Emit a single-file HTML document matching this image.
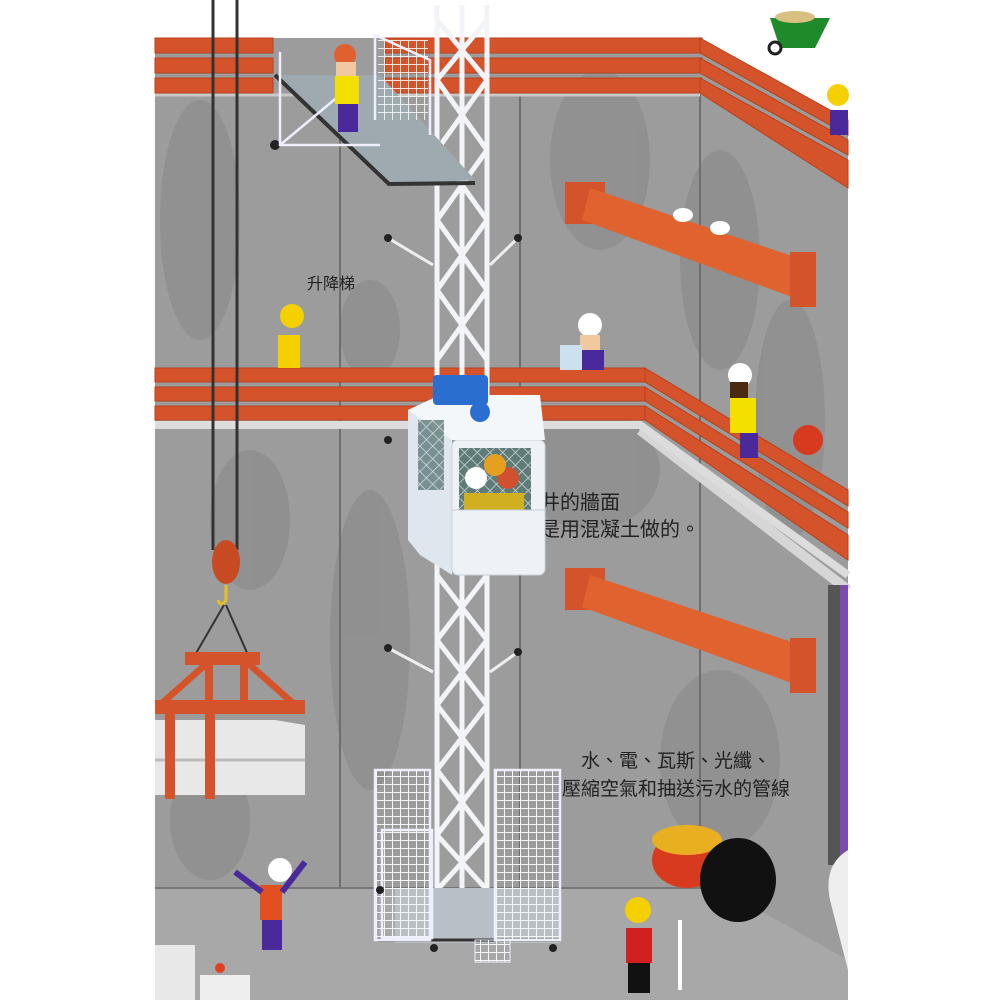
<!DOCTYPE html>
<html><head><meta charset="utf-8"><style>
html,body{margin:0;padding:0;background:#fff;}
svg{display:block}
text{font-family:"Liberation Sans","Noto Sans CJK TC",sans-serif;fill:#222}
</style></head><body>
<svg width="1000" height="1000" viewBox="0 0 1000 1000" xmlns="http://www.w3.org/2000/svg">
<defs>
<pattern id="mesh" width="8" height="8" patternUnits="userSpaceOnUse">
<rect width="8" height="8" fill="none"/><path d="M0 0H8M0 0V8" stroke="#f4f6f8" stroke-width="2"/>
</pattern>
<pattern id="dmesh" width="9" height="9" patternUnits="userSpaceOnUse" patternTransform="rotate(45)">
<rect width="9" height="9" fill="#5f7b78"/><path d="M0 0H9M0 0V9" stroke="#cfd8d8" stroke-width="1.5"/>
</pattern>
</defs>
<!-- wall -->
<path d="M155 38 H700 L848 125 V1000 H155Z" fill="#9c9c9c"/>
<g fill="#8e8e8e" opacity="0.8">
<ellipse cx="200" cy="220" rx="40" ry="120"/><ellipse cx="600" cy="160" rx="50" ry="90"/>
<ellipse cx="720" cy="260" rx="40" ry="110"/><ellipse cx="370" cy="330" rx="30" ry="50"/>
<ellipse cx="790" cy="420" rx="35" ry="120"/><ellipse cx="590" cy="470" rx="70" ry="60"/>
<ellipse cx="370" cy="640" rx="40" ry="150"/><ellipse cx="250" cy="520" rx="40" ry="70"/>
<ellipse cx="720" cy="760" rx="60" ry="90"/><ellipse cx="210" cy="820" rx="40" ry="60"/>
</g>
<!-- panel joints -->
<g stroke="#6e6e6e" stroke-width="2">
<line x1="340" y1="95" x2="340" y2="888"/><line x1="520" y1="95" x2="520" y2="888"/>
<line x1="700" y1="95" x2="700" y2="888"/>
</g>
<!-- floor -->
<path d="M155 888 H720 L848 960 V1000 H155Z" fill="#a8a8a8"/>
<line x1="155" y1="888" x2="720" y2="888" stroke="#777" stroke-width="2"/>
<!-- right diagonal wall edge -->
<path d="M640 430 L848 590" stroke="#d6d6d6" stroke-width="10"/>
<!-- top brick rails -->
<g fill="#d4532a" stroke="#b8401c" stroke-width="1">
<rect x="155" y="38" width="118" height="15"/><rect x="155" y="58" width="118" height="15"/><rect x="155" y="78" width="118" height="15"/>
<rect x="385" y="38" width="317" height="15"/><rect x="385" y="58" width="317" height="15"/><rect x="385" y="78" width="317" height="15"/>
<polygon points="700,38 848,120 848,135 700,53"/><polygon points="700,58 848,140 848,155 700,73"/><polygon points="700,78 848,160 848,188 700,93"/>
</g>
<line x1="155" y1="95" x2="700" y2="95" stroke="#c8c8c8" stroke-width="3"/>
<!-- middle brick rails -->
<g fill="#d4532a" stroke="#b8401c" stroke-width="1">
<rect x="155" y="368" width="490" height="14"/><rect x="155" y="387" width="490" height="14"/><rect x="155" y="406" width="490" height="14"/>
<polygon points="645,368 848,490 848,506 645,382"/><polygon points="645,387 848,512 848,528 645,401"/><polygon points="645,406 848,535 848,560 645,420"/>
</g>
<path d="M155 425 H640 L848 575" fill="none" stroke="#dcdcdc" stroke-width="8"/>
<!-- ropes -->
<line x1="213" y1="0" x2="213" y2="550" stroke="#333" stroke-width="3"/>
<line x1="237" y1="0" x2="237" y2="550" stroke="#333" stroke-width="3"/>
<!-- hook block -->
<ellipse cx="226" cy="562" rx="14" ry="22" fill="#c84a22"/>
<path d="M226 585 v15 q-5 8 -8 0" stroke="#e8c020" stroke-width="3" fill="none"/>
<line x1="224" y1="605" x2="195" y2="655" stroke="#333" stroke-width="2"/><line x1="226" y1="605" x2="248" y2="655" stroke="#333" stroke-width="2"/>
<!-- concrete blocks -->
<path d="M155 720 h120 l30 5 v70 H155Z" fill="#e8e8e8"/>
<path d="M155 760 H305" stroke="#bbb" stroke-width="3"/>
<!-- spreader -->
<g fill="#d4532a">
<rect x="185" y="652" width="75" height="13"/>
<polygon points="200,665 210,665 165,705 155,705"/><polygon points="245,665 255,665 300,705 290,705"/>
<rect x="205" y="665" width="8" height="40"/><rect x="240" y="665" width="8" height="40"/>
<rect x="155" y="700" width="150" height="14"/>
<rect x="165" y="714" width="10" height="85"/><rect x="205" y="714" width="10" height="85"/>
</g>
<!-- pipes -->
<g>
<rect x="565" y="182" width="40" height="42" fill="#d4532a"/>
<polygon points="590,188 810,262 800,300 582,220" fill="#e0622f"/>
<rect x="790" y="252" width="26" height="55" fill="#d4532a"/>
<rect x="565" y="568" width="40" height="42" fill="#d4532a"/>
<polygon points="590,575 810,648 800,686 582,607" fill="#e0622f"/>
<rect x="790" y="638" width="26" height="55" fill="#d4532a"/>
</g>
<!-- birds -->
<ellipse cx="683" cy="215" rx="10" ry="7" fill="#fff"/><ellipse cx="720" cy="228" rx="10" ry="7" fill="#fff"/>
<!-- right vertical pipe -->
<rect x="828" y="585" width="12" height="280" fill="#555"/>
<rect x="840" y="585" width="8" height="280" fill="#7a4cb0"/>
<!-- text -->
<text x="307" y="289" font-size="16">升降梯</text>
<text x="520" y="509" font-size="20">豎井的牆面</text>
<text x="520" y="536" font-size="20">都是用混凝土做的。</text>
<text x="676" y="767" font-size="19" text-anchor="middle">水、電、瓦斯、光纖、</text>
<text x="676" y="795" font-size="19" text-anchor="middle">壓縮空氣和抽送污水的管線</text>
<!-- tower -->
<g stroke="#f2f4f7" stroke-width="5" fill="none">
<line x1="437" y1="5" x2="437" y2="895"/><line x1="462" y1="5" x2="462" y2="895"/><line x1="487" y1="5" x2="487" y2="895"/>
<path d="M437 20 L487 80 M487 20 L437 80 M437 80 L487 150 M487 80 L437 150 M437 150 L487 220 M487 150 L437 220 M437 220 L487 290 M487 220 L437 290 M437 290 L487 360 M487 290 L437 360 M437 575 L487 640 M487 575 L437 640 M437 640 L487 705 M487 640 L437 705 M437 705 L487 770 M487 705 L437 770 M437 770 L487 835 M487 770 L437 835 M437 835 L487 890 M487 835 L437 890"/>
</g>
<g stroke="#eee" stroke-width="3"><line x1="388" y1="238" x2="433" y2="265"/><line x1="518" y1="238" x2="490" y2="265"/>
<line x1="388" y1="648" x2="433" y2="672"/><line x1="518" y1="652" x2="490" y2="672"/></g>
<g fill="#222"><circle cx="388" cy="238" r="4"/><circle cx="518" cy="238" r="4"/><circle cx="388" cy="648" r="4"/><circle cx="518" cy="652" r="4"/><circle cx="275" cy="145" r="5"/><circle cx="388" cy="440" r="4"/></g>
<!-- top platform -->
<polygon points="275,75 380,75 475,180 390,185" fill="#9fa9b0"/>
<line x1="275" y1="75" x2="390" y2="185" stroke="#333" stroke-width="4"/>
<line x1="390" y1="184" x2="475" y2="183" stroke="#333" stroke-width="4"/>
<g stroke="#eef" stroke-width="2.5" fill="none">
<path d="M280 52 V145 H380 M280 145 L340 95"/><path d="M375 35 L430 60 V135 M375 35 V120"/>
</g>
<rect x="378" y="40" width="50" height="80" fill="url(#mesh)" opacity="0.9"/>
<!-- workers (simplified) -->
<g>
<circle cx="345" cy="55" r="11" fill="#e06030"/><rect x="336" y="62" width="20" height="14" fill="#f1c9a0"/>
<rect x="335" y="76" width="24" height="28" fill="#f4e000"/><rect x="338" y="104" width="20" height="28" fill="#4a2a9a"/>
<circle cx="292" cy="316" r="12" fill="#f4d000"/><rect x="278" y="335" width="22" height="33" fill="#f4d000"/>
<circle cx="590" cy="325" r="12" fill="#fff"/><rect x="580" y="335" width="20" height="16" fill="#f1c9a0"/><rect x="560" y="345" width="22" height="25" fill="#cce0f0"/><rect x="582" y="350" width="22" height="20" fill="#4a2a9a"/>
<circle cx="740" cy="375" r="12" fill="#fff"/><rect x="730" y="382" width="18" height="16" fill="#4a2a10"/><rect x="730" y="398" width="26" height="35" fill="#f4e000"/><rect x="740" y="433" width="18" height="25" fill="#4a2a9a"/>
<circle cx="838" cy="95" r="11" fill="#f4d000"/><rect x="830" y="110" width="18" height="25" fill="#4a2a9a"/>
<circle cx="280" cy="870" r="12" fill="#fff"/><rect x="260" y="885" width="22" height="35" fill="#e05020"/><rect x="262" y="920" width="20" height="30" fill="#4a2a9a"/>
<path d="M235 872 L262 892 M305 862 L282 892" stroke="#4a2a9a" stroke-width="6"/>
<circle cx="638" cy="910" r="13" fill="#f4d000"/><rect x="626" y="928" width="26" height="35" fill="#d02020"/><rect x="628" y="963" width="22" height="30" fill="#111"/>
<line x1="680" y1="920" x2="680" y2="990" stroke="#fff" stroke-width="4"/>
</g>
<!-- cable reel & coils -->
<ellipse cx="687" cy="860" rx="35" ry="28" fill="#d83a20"/><ellipse cx="687" cy="840" rx="35" ry="15" fill="#e8b020"/>
<ellipse cx="738" cy="880" rx="38" ry="42" fill="#111"/>
<circle cx="808" cy="440" r="15" fill="#d83a20"/>
<!-- right bottom white machine -->
<path d="M848 850 q-25 15 -18 50 l18 70Z" fill="#eee"/>
<!-- cab -->
<polygon points="408,410 440,395 452,440 452,575 420,555 408,540" fill="#dfe6ee"/>
<rect x="452" y="440" width="93" height="135" rx="6" fill="#eef2f7" stroke="#c8d2dc"/>
<polygon points="408,410 440,395 540,395 545,440 452,440" fill="#f4f7fa"/>
<rect x="459" y="448" width="72" height="62" fill="url(#dmesh)"/>
<circle cx="476" cy="478" r="11" fill="#fff"/><circle cx="508" cy="478" r="11" fill="#d05030"/><circle cx="495" cy="465" r="11" fill="#e6a020"/>
<rect x="464" y="493" width="60" height="17" fill="#d0b020"/>
<rect x="418" y="420" width="26" height="70" fill="url(#dmesh)" opacity="0.8"/>
<line x1="452" y1="510" x2="545" y2="510" stroke="#c0ccd8"/>
<!-- motor -->
<rect x="433" y="375" width="55" height="30" rx="4" fill="#2a6fd0"/><circle cx="480" cy="412" r="10" fill="#2a6fd0"/>
<!-- bottom cage -->
<rect x="395" y="888" width="165" height="55" fill="#b8c0c6"/>
<line x1="378" y1="940" x2="560" y2="940" stroke="#333" stroke-width="3"/>
<rect x="375" y="770" width="55" height="170" fill="url(#mesh)" stroke="#eef" stroke-width="2.5"/>
<rect x="495" y="770" width="65" height="170" fill="url(#mesh)" stroke="#eef" stroke-width="2.5"/>
<rect x="382" y="830" width="50" height="108" fill="url(#mesh)" stroke="#eef" stroke-width="2.5"/>
<rect x="475" y="940" width="35" height="22" fill="url(#mesh)" stroke="#eef"/>
<g fill="#222"><circle cx="434" cy="948" r="4"/><circle cx="553" cy="948" r="4"/><circle cx="380" cy="890" r="4"/></g>
<!-- wheelbarrow -->
<path d="M770 18 h60 l-15 30 h-35z" fill="#1f8a2a"/><ellipse cx="795" cy="17" rx="20" ry="6" fill="#d8c080"/>
<circle cx="775" cy="48" r="6" fill="none" stroke="#222" stroke-width="3"/>
<!-- bottom left blocks -->
<path d="M155 945 h40 v55 h-40Z" fill="#e8e8e8"/>
<rect x="200" y="975" width="50" height="25" fill="#eee"/><circle cx="220" cy="968" r="5" fill="#e04020"/>
</svg>
</body></html>
